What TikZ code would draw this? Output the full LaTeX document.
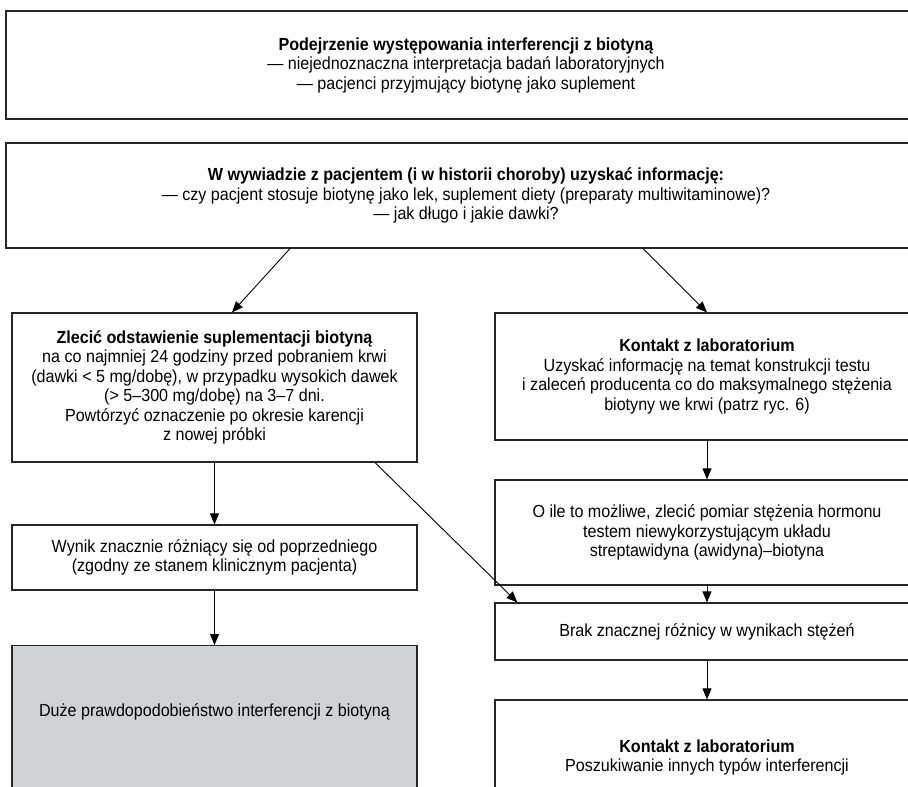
\documentclass[tikz,border=0pt]{standalone}
\usepackage{fontspec}
\setmainfont{Liberation Sans}[FakeStretch=0.92]
\usetikzlibrary{arrows.meta}

\definecolor{boxgray}{HTML}{D1D2D4}

\tikzset{
  box/.style={draw=black!85, line width=1.2pt, align=center, inner sep=0pt,
    font=\fontsize{17.5}{19.5}\selectfont},
  widebox/.style={box, minimum width=920pt},
  leftbox/.style={box, minimum width=405pt},
  rightbox/.style={box, minimum width=424pt},
  arr/.style={-{Triangle[length=11pt,width=9pt]}, line width=0.9pt}
}

\begin{document}
\begin{tikzpicture}[x=1pt,y=-1pt]
    \useasboundingbox (0,0) rectangle (908,787);
    \clip (0,0) rectangle (908,787);

    % top row
    \node[widebox, minimum height=108pt] (suspect) at (466,65)
        {\textbf{Podejrzenie występowania interferencji z biotyną}\\
         — niejednoznaczna interpretacja badań laboratoryjnych\\
         — pacjenci przyjmujący biotynę jako suplement};
    \node[widebox, minimum height=105pt] (interview) at (466,195.5)
        {\textbf{W wywiadzie z pacjentem (i w historii choroby) uzyskać informację:}\\
         — czy pacjent stosuje biotynę jako lek, suplement diety (preparaty multiwitaminowe)?\\
         — jak długo i jakie dawki?};

    % left column
    \node[leftbox, minimum height=149pt] (stop) at (214.5,387.5)
        {\textbf{Zlecić odstawienie suplementacji biotyną}\\
         na co najmniej 24 godziny przed pobraniem krwi\\
         (dawki < 5 mg/dobę), w przypadku wysokich dawek\\
         (> 5–300 mg/dobę) na 3–7 dni.\\
         Powtórzyć oznaczenie po okresie karencji\\
         z nowej próbki};
    \node[leftbox, minimum height=65pt] (diff) at (214.5,557.5)
        {Wynik znacznie różniący się od poprzedniego\\
         (zgodny ze stanem klinicznym pacjenta)};
    \node[leftbox, anchor=north, text height=71pt, text depth=84pt, fill=boxgray]
        (likely) at (214.5,645)
        {Duże prawdopodobieństwo interferencji z biotyną};

    % right column
    \node[rightbox, minimum height=127pt] (lab) at (707,376.5)
        {\textbf{Kontakt z laboratorium}\\
         Uzyskać informację na temat konstrukcji testu\\
         i zaleceń producenta co do maksymalnego stężenia\\
         biotyny we krwi (patrz ryc. 6)};
    \node[rightbox, minimum height=105pt] (alt) at (707,532.5)
        {O ile to możliwe, zlecić pomiar stężenia hormonu\\
         testem niewykorzystującym układu\\
         streptawidyna (awidyna)–biotyna};
    \node[rightbox, minimum height=57pt] (nodiff) at (707,631.5)
        {Brak znacznej różnicy w wynikach stężeń};
    \node[rightbox, minimum height=115pt] (other) at (707,757.5)
        {\textbf{Kontakt z laboratorium}\\
         Poszukiwanie innych typów interferencji};

    % arrows
    \draw[arr] ([xshift=-176pt]interview.south) -- ([xshift=17.5pt]stop.north);
    \draw[arr] ([xshift=177pt]interview.south) -- (lab.north);
    \draw[arr] (stop) -- (diff);
    \draw[arr] (diff) -- (likely);
    \draw[arr] ([xshift=160.5pt]stop.south) -- ([xshift=23pt]nodiff.north west);
    \draw[arr] (lab) -- (alt);
    \draw[arr] (alt) -- (nodiff);
    \draw[arr] (nodiff) -- (other);

\end{tikzpicture}
\end{document}
